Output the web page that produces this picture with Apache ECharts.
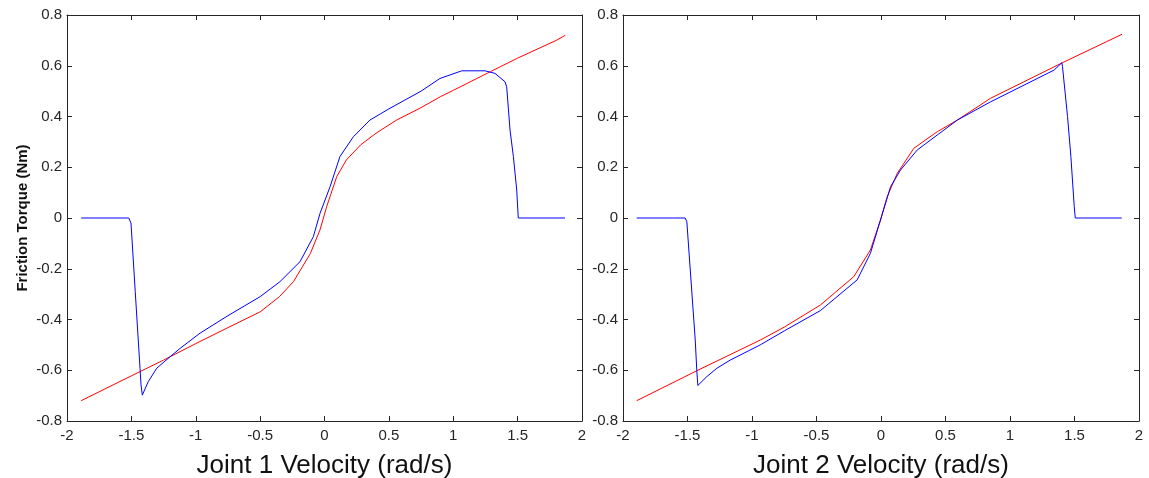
<!DOCTYPE html>
<html>
<head>
<meta charset="utf-8">
<script src="https://cdn.jsdelivr.net/npm/echarts@6/dist/echarts.min.js"></script>
<style>
  html, body { margin: 0; padding: 0; background: #fff; }
  #chart { width: 1149px; height: 478px; }
</style>
</head>
<body>
<div id="chart"></div>
<script>
// Joint 1: model friction (red) and measured friction (blue)
const j1ModelVel = [-1.89, -1.5, -1.25, -1.0, -0.75, -0.5, -0.35, -0.24, -0.11, -0.035, 0.017, 0.06, 0.095, 0.17, 0.28, 0.4, 0.56, 0.75, 0.9, 1.0, 1.29, 1.5, 1.8, 1.87];
const j1ModelTrq = [-0.72, -0.622, -0.56, -0.495, -0.432, -0.37, -0.31, -0.25, -0.14, -0.047, 0.045, 0.11, 0.163, 0.229, 0.288, 0.334, 0.386, 0.435, 0.478, 0.503, 0.577, 0.63, 0.70, 0.72];
const j1MeasVel = [-1.89, -1.52, -1.503, -1.47, -1.433, -1.425, -1.415, -1.369, -1.303, -1.2, -1.122, -0.967, -0.75, -0.5, -0.346, -0.19, -0.087, -0.035, 0.043, 0.12, 0.224, 0.353, 0.5, 0.75, 0.897, 1.066, 1.247, 1.324, 1.402, 1.415, 1.441, 1.467, 1.493, 1.505, 1.868];
const j1MeasTrq = [0, 0, -0.02, -0.29, -0.592, -0.658, -0.698, -0.645, -0.592, -0.547, -0.514, -0.454, -0.385, -0.31, -0.251, -0.172, -0.074, 0.018, 0.123, 0.242, 0.32, 0.386, 0.43, 0.5, 0.55, 0.58, 0.58, 0.57, 0.537, 0.517, 0.347, 0.242, 0.11, 0, 0];

// Joint 2: model friction (red) and measured friction (blue)
const j2ModelVel = [-1.894, -1.428, -0.936, -0.75, -0.47, -0.211, -0.082, -0.004, 0.048, 0.126, 0.255, 0.436, 0.592, 0.85, 1.407, 1.868];
const j2ModelTrq = [-0.72, -0.602, -0.481, -0.43, -0.343, -0.231, -0.126, -0.008, 0.084, 0.176, 0.275, 0.34, 0.386, 0.472, 0.612, 0.724];
const j2MeasVel = [-1.894, -1.518, -1.505, -1.44, -1.428, -1.42, -1.35, -1.272, -1.169, -0.936, -0.75, -0.47, -0.185, -0.082, -0.004, 0.074, 0.151, 0.281, 0.436, 0.592, 0.85, 1.342, 1.402, 1.407, 1.446, 1.472, 1.498, 1.506, 1.866];
const j2MeasTrq = [0, 0, -0.015, -0.481, -0.6, -0.66, -0.625, -0.592, -0.56, -0.5, -0.445, -0.365, -0.244, -0.139, -0.008, 0.123, 0.189, 0.268, 0.327, 0.386, 0.458, 0.583, 0.612, 0.596, 0.4, 0.242, 0.045, 0, 0];

// Axis ranges and titles
const velRange = [-2, 2];
const velStep = 0.5;
const trqRange = [-0.8, 0.8];
const trqStep = 0.2;
const xTitles = ['Joint 1 Velocity (rad/s)', 'Joint 2 Velocity (rad/s)'];
const yTitle = 'Friction Torque (Nm)';

const pairs = (xs, ys) => xs.map((x, i) => [x, ys[i]]);

const axisColor = '#262626';
const labelFont = { fontFamily: 'Liberation Sans, Arial, sans-serif', fontSize: 15, color: '#262626' };

function xAxisFor(gridIndex, pos) {
  const bottom = pos === 'bottom';
  return {
    type: 'value', gridIndex, position: pos,
    min: velRange[0], max: velRange[1], interval: velStep,
    axisLine: { show: true, onZero: false, lineStyle: { color: axisColor, width: 1 } },
    axisTick: { show: true, inside: true, length: 5, lineStyle: { color: axisColor } },
    axisLabel: Object.assign({ show: bottom, margin: 7, formatter: v => String(v) }, labelFont),
    splitLine: { show: false },
    name: bottom ? xTitles[gridIndex] : '',
    nameLocation: 'middle', nameGap: 32,
    nameTextStyle: { fontFamily: 'Liberation Sans, Arial, sans-serif', fontSize: 26, color: '#111' }
  };
}

function yAxisFor(gridIndex, pos) {
  const left = pos === 'left';
  return {
    type: 'value', gridIndex, position: pos,
    min: trqRange[0], max: trqRange[1], interval: trqStep,
    axisLine: { show: true, onZero: false, lineStyle: { color: axisColor, width: 1 } },
    axisTick: { show: true, inside: true, length: 5, lineStyle: { color: axisColor } },
    axisLabel: Object.assign({ show: left, margin: 5, formatter: v => String(Math.round(v * 10) / 10) }, labelFont),
    splitLine: { show: false },
    name: (left && gridIndex === 0) ? yTitle : '',
    nameLocation: 'middle', nameGap: 37,
    nameTextStyle: { fontFamily: 'Liberation Sans, Arial, sans-serif', fontSize: 15, fontWeight: 'bold', color: '#111' }
  };
}

function line(data, color, xi, yi) {
  return {
    type: 'line', data, xAxisIndex: xi, yAxisIndex: yi,
    showSymbol: false, symbol: 'none', smooth: false,
    lineStyle: { color, width: 1 }, animation: false, silent: true
  };
}

const chart = echarts.init(document.getElementById('chart'), null, { renderer: 'canvas' });
chart.setOption({
  backgroundColor: '#fff',
  animation: false,
  grid: [
    { left: 67, top: 15, width: 515, height: 406, outerBoundsMode: 'none', containLabel: false },
    { left: 623, top: 15, width: 516, height: 406, outerBoundsMode: 'none', containLabel: false }
  ],
  xAxis: [xAxisFor(0, 'bottom'), xAxisFor(1, 'bottom'), xAxisFor(0, 'top'), xAxisFor(1, 'top')],
  yAxis: [yAxisFor(0, 'left'), yAxisFor(1, 'left'), yAxisFor(0, 'right'), yAxisFor(1, 'right')],
  series: [
    line(pairs(j1ModelVel, j1ModelTrq), '#ff0000', 0, 0),
    line(pairs(j1MeasVel, j1MeasTrq), '#0000ff', 0, 0),
    line(pairs(j2ModelVel, j2ModelTrq), '#ff0000', 1, 1),
    line(pairs(j2MeasVel, j2MeasTrq), '#0000ff', 1, 1)
  ]
});
</script>
</body>
</html>
